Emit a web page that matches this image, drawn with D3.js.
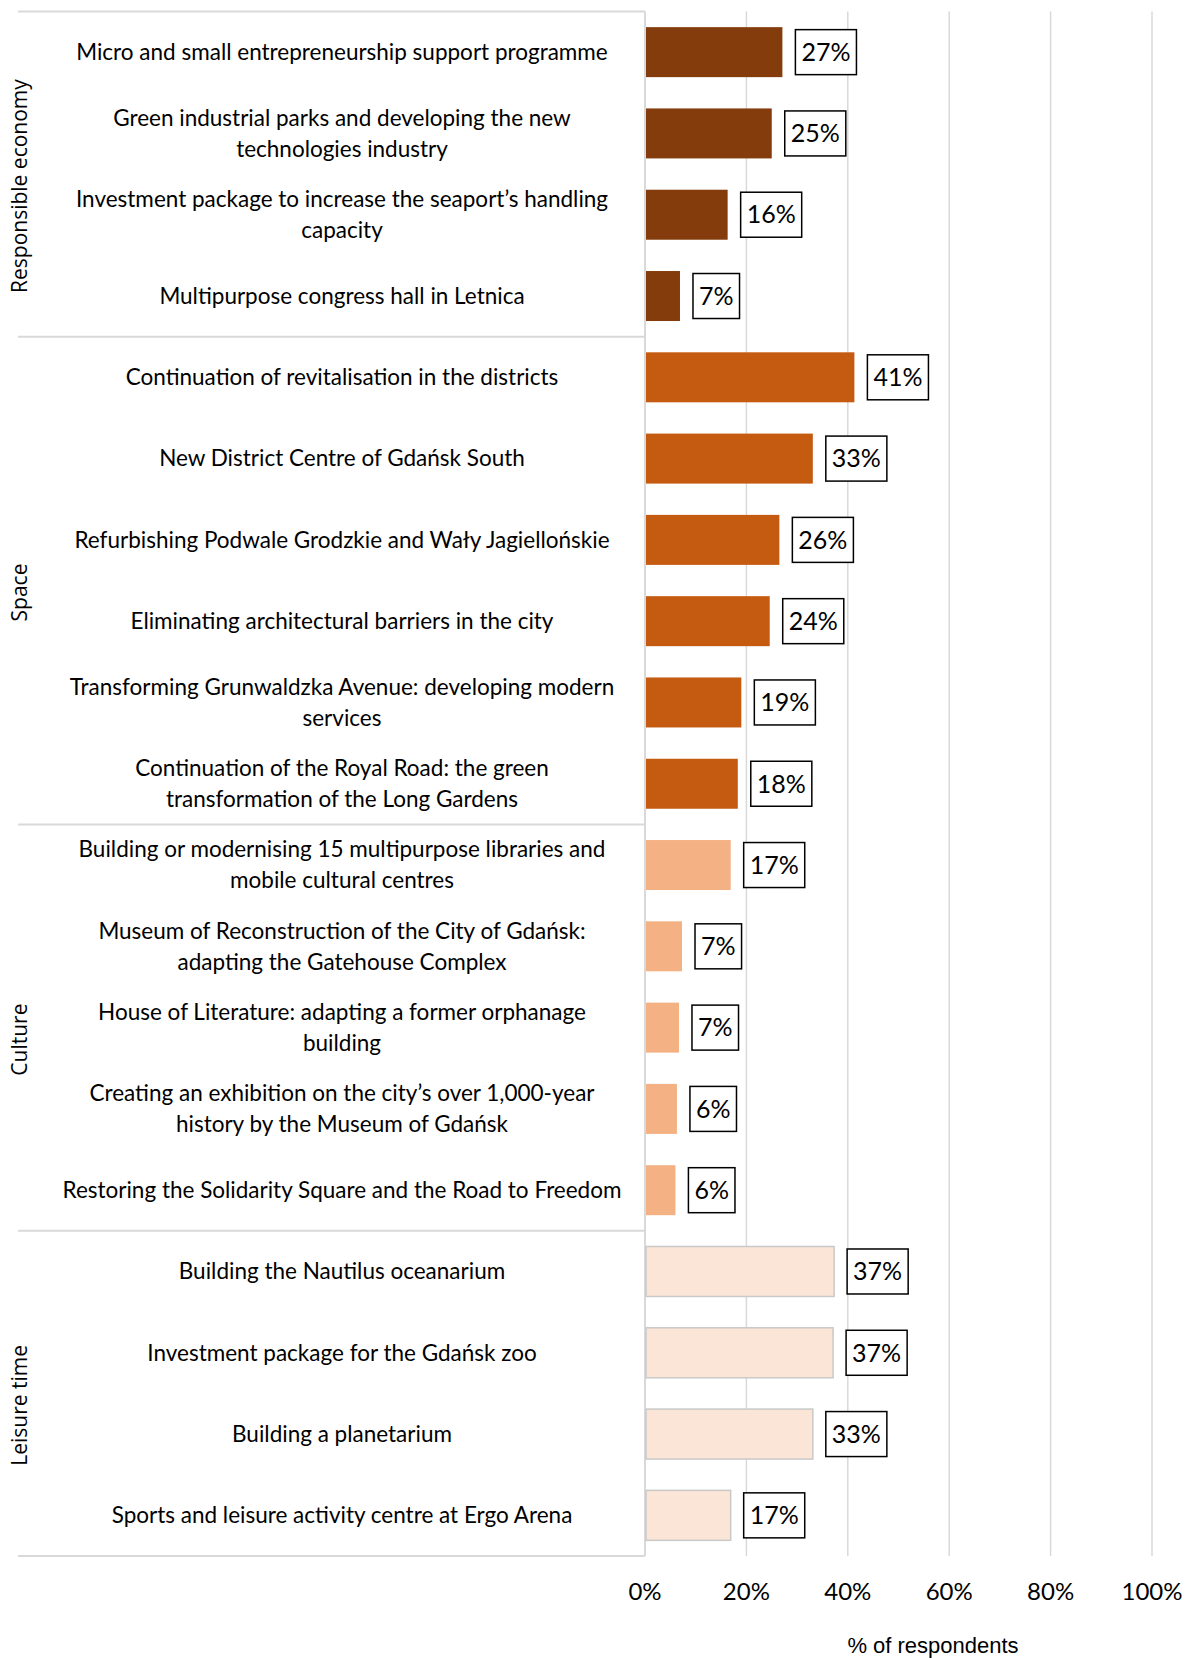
<!DOCTYPE html>
<html lang="en">
<head>
<meta charset="UTF-8">
<title>Investment priorities</title>
<style>
    body { margin: 0; background: #fff; }
    .cat-label { font-family: Lato, sans-serif; font-size: 22.5px; fill: #000; text-anchor: middle; }
    .group-label { font-family: "Open Sans", sans-serif; font-size: 21px; fill: #000; text-anchor: middle; }
    .value-label { font-family: Lato, sans-serif; font-size: 25px; fill: #000; }
    .tick-label { font-family: Lato, sans-serif; font-size: 24px; fill: #000; text-anchor: middle; }
    .axis-title { font-family: "Liberation Sans", Arial, sans-serif; font-size: 22px; fill: #000; text-anchor: middle; }
</style>
</head>
<body>
<svg width="1195" height="1658"></svg>
<script src="https://d3js.org/d3.v7.min.js"></script>
<script>
    var categories = [
        "Micro and small entrepreneurship support programme",
        "Green industrial parks and developing the new\ntechnologies industry",
        "Investment package to increase the seaport\u2019s handling\ncapacity",
        "Multipurpose congress hall in Letnica",
        "Continuation of revitalisation in the districts",
        "New District Centre of Gdańsk South",
        "Refurbishing Podwale Grodzkie and Wały Jagiellońskie",
        "Eliminating architectural barriers in the city",
        "Transforming Grunwaldzka Avenue: developing modern\nservices",
        "Continuation of the Royal Road: the green\ntransformation of the Long Gardens",
        "Building or modernising 15 multipurpose libraries and\nmobile cultural centres",
        "Museum of Reconstruction of the City of Gdańsk:\nadapting the Gatehouse Complex",
        "House of Literature: adapting a former orphanage\nbuilding",
        "Creating an exhibition on the city\u2019s over 1,000-year\nhistory by the Museum of Gdańsk",
        "Restoring the Solidarity Square and the Road to Freedom",
        "Building the Nautilus oceanarium",
        "Investment package for the Gdańsk zoo",
        "Building a planetarium",
        "Sports and leisure activity centre at Ergo Arena"
    ];
    var groups = ["Responsible economy", "Space", "Culture", "Leisure time"];
    var groupOf = [0, 0, 0, 0, 1, 1, 1, 1, 1, 1, 2, 2, 2, 2, 2, 3, 3, 3, 3];
    var values = [27.1, 25.0, 16.3, 6.9, 41.3, 33.1, 26.5, 24.6, 19.0, 18.3,
                  16.9, 7.3, 6.7, 6.3, 6.0, 37.3, 37.1, 33.1, 16.9];
    var valueLabels = ["27%", "25%", "16%", "7%", "41%", "33%", "26%", "24%", "19%", "18%",
                       "17%", "7%", "7%", "6%", "6%", "37%", "37%", "33%", "17%"];
    var ticks = [0, 20, 40, 60, 80, 100];

    var svg = d3.select("svg");
    var plotLeft = 645, plotRight = 1152, plotTop = 11.5, plotBottom = 1556;

    var x = d3.scaleLinear().domain([0, 100]).range([plotLeft, plotRight]);
    var y = d3.scaleBand().domain(d3.range(categories.length))
        .range([plotTop, plotBottom]).paddingInner(0.385).paddingOuter(0.1925);
    var color = d3.scaleOrdinal().domain(d3.range(groups.length))
        .range(["#843c0c", "#c55a11", "#f4b183", "#fbe5d6"]);

    // gridlines
    svg.selectAll(".grid")
        .data(ticks.slice(1))
        .enter().append("line")
        .attr("x1", d => x(d)).attr("x2", d => x(d))
        .attr("y1", plotTop).attr("y2", plotBottom)
        .style("stroke", "#d9d9d9").style("stroke-width", 1.5);

    // group boundaries in the label table
    var bounds = [0];
    groupOf.forEach(function (g, i) { if (i > 0 && g !== groupOf[i - 1]) bounds.push(i); });
    bounds.push(categories.length);
    var step = y.step();
    svg.selectAll(".sep")
        .data(bounds)
        .enter().append("line")
        .attr("x1", 18).attr("x2", plotLeft)
        .attr("y1", d => plotTop + d * step).attr("y2", d => plotTop + d * step)
        .style("stroke", "#d9d9d9").style("stroke-width", 2);

    svg.append("line")
        .attr("x1", plotLeft).attr("x2", plotLeft).attr("y1", plotTop).attr("y2", plotBottom)
        .style("stroke", "#d9d9d9").style("stroke-width", 2);

    // bars
    svg.selectAll(".bar")
        .data(values)
        .enter().append("rect")
        .attr("x", x(0) + 1)
        .attr("y", (d, i) => y(i))
        .attr("width", d => x(d) - x(0) - 1)
        .attr("height", y.bandwidth())
        .style("fill", (d, i) => color(groupOf[i]))
        .style("stroke", (d, i) => groupOf[i] === 3 ? "#c9c9c9" : "none")
        .style("stroke-width", 1.5);

    // value labels with boxes
    values.forEach(function (v, i) {
        var cy = y(i) + y.bandwidth() / 2;
        var g = svg.append("g");
        var t = g.append("text")
            .attr("class", "value-label")
            .attr("x", x(v) + 19)
            .attr("y", cy)
            .attr("dy", "0.35em")
            .text(valueLabels[i]);
        var bb = t.node().getBBox();
        g.insert("rect", "text")
            .attr("x", x(v) + 13)
            .attr("y", cy - 22.5)
            .attr("width", bb.width + 12)
            .attr("height", 45)
            .style("fill", "#fff")
            .style("stroke", "#000")
            .style("stroke-width", 1.5);
    });

    // category labels
    categories.forEach(function (c, i) {
        var lines = c.split("\n");
        var cy = y(i) + y.bandwidth() / 2;
        var lh = 31;
        var t = svg.append("text").attr("class", "cat-label");
        lines.forEach(function (ln, k) {
            t.append("tspan")
                .attr("x", 342)
                .attr("y", cy + (k - (lines.length - 1) / 2) * lh)
                .attr("dy", "0.35em")
                .text(ln);
        });
    });

    // group labels (rotated)
    groups.forEach(function (gname, gi) {
        var idx = d3.range(groupOf.length).filter(i => groupOf[i] === gi);
        var cy = plotTop + (idx[0] + idx.length / 2) * step + 12;
        svg.append("text")
            .attr("class", "group-label")
            .attr("transform", "translate(20," + cy + ") rotate(-90)")
            .attr("dy", "0.35em")
            .text(gname);
    });

    // x tick labels
    svg.selectAll(".tick-label")
        .data(ticks)
        .enter().append("text")
        .attr("class", "tick-label")
        .attr("x", d => x(d))
        .attr("y", 1592)
        .attr("dy", "0.35em")
        .text(d => d + "%");

    svg.append("text")
        .attr("class", "axis-title")
        .attr("x", 933)
        .attr("y", 1645)
        .attr("dy", "0.35em")
        .text("% of respondents");
</script>
</body>
</html>
